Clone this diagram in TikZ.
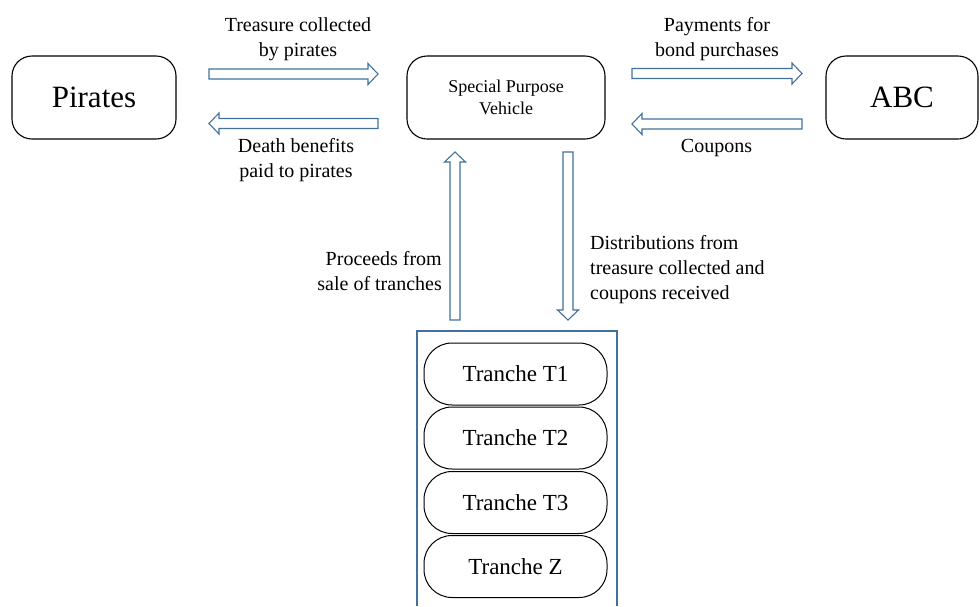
\documentclass[tikz,border=0pt]{standalone}
\usepackage{fontspec}
\newfontfamily\tnr{Liberation Serif}[Ligatures=NoCommon]
\usetikzlibrary{calc}
\definecolor{flowblue}{HTML}{41719C}
\tikzset{
  rbox/.style={draw=black, line width=1.1pt, rounded corners=20pt, align=center, inner sep=0pt},
  pill/.style={draw=black, line width=1pt, rounded corners=28pt, minimum width=183pt, minimum height=62pt, inner sep=0pt, font=\tnr\fontsize{23}{27}\selectfont},
  frame/.style={draw=flowblue, line width=1.8pt},
  barrow/.style={draw=flowblue, line width=1.1pt, fill=white, line join=miter},
  lbl/.style={font=\tnr\fontsize{20}{25}\selectfont, inner sep=0pt},
}
\newcommand{\blockarrow}[2]{%
  \coordinate (hb) at ($(#2)!10pt!(#1)$);
  \draw[barrow] ($(#1)!5pt!90:(#2)$) -- ($(hb)!5pt!-90:(#1)$) -- ($(hb)!10.5pt!-90:(#1)$) -- (#2)
     -- ($(hb)!10.5pt!90:(#1)$) -- ($(hb)!5pt!90:(#1)$) -- ($(#1)!5pt!-90:(#2)$) -- cycle;
}
\begin{document}
\begin{tikzpicture}[x=1pt, y=-1pt]
\path[use as bounding box] (0,0) rectangle (980,606);

% main boxes
\node[rbox, minimum width=164pt, minimum height=83pt, font=\tnr\fontsize{31}{36}\selectfont] (pir) at (94,97.5) {Pirates};
\node[rbox, minimum width=198pt, minimum height=83pt, font=\tnr\fontsize{18}{22}\selectfont] (spv) at (506,97.5) {Special Purpose\\Vehicle};
\node[rbox, minimum width=152pt, minimum height=83pt, font=\tnr\fontsize{31}{36}\selectfont] (abc) at (902,97.5) {ABC};

% tranche container (open at the bottom edge of the picture) and tranches
\coordinate (cbl) at (417,606);
\coordinate (ctl) at (417,331);
\coordinate (ctr) at (617,331);
\coordinate (cbr) at (617,606);
\draw[frame] (cbl) -- (ctl) -- (ctr) -- (cbr);
\node[pill] (t1) at (515.5,374) {Tranche T1};
\node[pill] (t2) at (515.5,438) {Tranche T2};
\node[pill] (t3) at (515.5,502.5) {Tranche T3};
\node[pill] (tz) at (515.5,566.5) {Tranche Z};

% arrow end coordinates
\coordinate (a1s) at (209,74);    \coordinate (a1e) at (378,74);
\coordinate (a2s) at (378,123.5); \coordinate (a2e) at (209,123.5);
\coordinate (a3s) at (632,73.5);  \coordinate (a3e) at (802,73.5);
\coordinate (a4s) at (802,124);   \coordinate (a4e) at (632,124);
\coordinate (a5s) at (455,320);   \coordinate (a5e) at (455,152);
\coordinate (a6s) at (568,152);   \coordinate (a6e) at (568,320);

\blockarrow{a1s}{a1e}
\blockarrow{a2s}{a2e}
\blockarrow{a3s}{a3e}
\blockarrow{a4s}{a4e}
\blockarrow{a5s}{a5e}
\blockarrow{a6s}{a6e}

% labels
\node[lbl, align=center] (l1) at (298,39.5) {Treasure collected\\by pirates};
\node[lbl, align=center] (l2) at (296,160) {Death benefits\\paid to pirates};
\node[lbl, align=center] (l3) at (717,39.5) {Payments for\\bond purchases};
\node[lbl, align=center] (l4) at (716.5,147.6) {Coupons};
\node[lbl, align=right, anchor=east] (l5) at (442,271.4) {Proceeds from\\sale of tranches};
\node[lbl, align=left, anchor=west] (l6) at (590,269.4) {Distributions from\\treasure collected and\\coupons received};
\end{tikzpicture}
\end{document}
